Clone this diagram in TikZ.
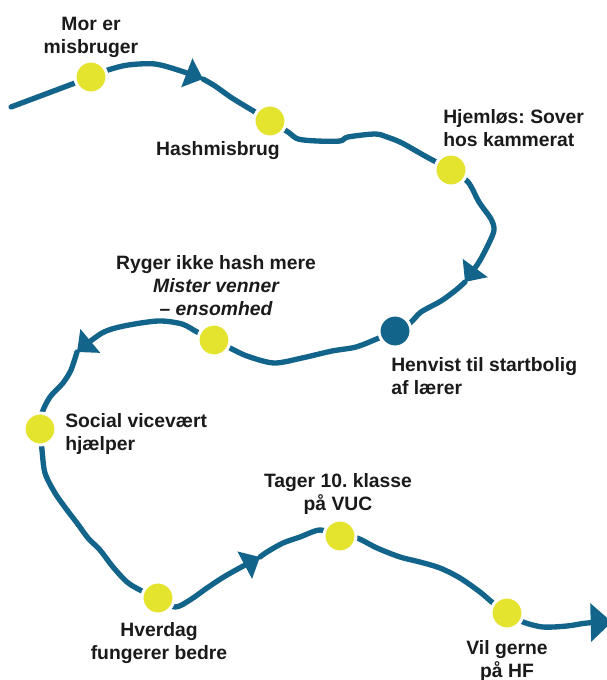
\documentclass[tikz,border=0pt]{standalone}
\usepackage{fontspec}
\setmainfont{Liberation Sans}
\usetikzlibrary{arrows.meta,backgrounds}

\definecolor{sti}{HTML}{13648A}
\definecolor{gul}{HTML}{E4E42F}
\definecolor{tekstfarve}{HTML}{1A1A1A}

\begin{document}
\frenchspacing
\begin{tikzpicture}[x=0.75pt,y=-0.75pt,
  trail/.style={draw=sti,line width=4pt,line cap=round,line join=round},
  pil/.style={-{Triangle[length=13pt,width=22.5pt]}},
  storpil/.style={-{Triangle[length=16pt,width=28pt]}},
  etape/.style={circle,fill=gul,draw=white,line width=2.25pt,minimum size=24pt,inner sep=0pt},
  morkeetape/.style={etape,fill=sti},
  tekst/.style={font=\fontsize{14.5}{17.25}\selectfont\bfseries,text=tekstfarve,inner sep=0pt,align=center}]

\useasboundingbox (0,0) rectangle (606,680);

% Punkter paa vejen
\node[etape] (mor) at (91,77) {};
\node[etape] (hash) at (270,121) {};
\node[etape] (hjem) at (451,170) {};
\node[morkeetape] (henv) at (395,331) {};
\node[etape] (ryger) at (214,340) {};
\node[etape] (social) at (40,429) {};
\node[etape] (hverdag) at (158,598) {};
\node[etape] (tager) at (340,536) {};
\node[etape] (vil) at (507,613) {};

% Start, pilespidser og slut
\coordinate (start) at (11,107);
\coordinate (p1) at (203,79);
\coordinate (p2) at (465,282);
\coordinate (p3) at (77,352);
\coordinate (p4) at (260,557);
\coordinate (slut) at (612,622);

% Vejen (under punkterne)
\begin{scope}[on background layer]
\draw[trail] (start) -- (mor);
\draw[trail,pil] plot[smooth] coordinates {(mor) (108,70) (128,65) (155,64) (181,71) (p1)};
\draw[trail] plot[smooth] coordinates {(p1) (215,86) (232,98) (255,112) (hash)};
\draw[trail] plot[smooth] coordinates {(hash) (288,132) (298,139) (317,141) (340,141) (348,137) (375,134) (387,137) (402,143) (425,156) (hjem)};
\draw[trail,pil] plot[smooth] coordinates {(hjem) (468,182) (479,202) (491,219) (494,230) (489,243) (479,262) (p2)};
\draw[trail] plot[smooth] coordinates {(p2) (456,290) (441,301) (421,312) (410,323) (henv)};
\draw[trail] plot[smooth] coordinates {(henv) (379,338) (356,347) (332,351) (302,358) (274,363) (247,356) (228,347) (ryger)};
\draw[trail,pil] plot[smooth] coordinates {(ryger) (197,332) (182,324) (158,321) (124,326) (102,333) (p3)};
\draw[trail] plot[smooth] coordinates {(p3) (71,370) (63,383) (50,397) (42,413) (social)};
\draw[trail] plot[smooth] coordinates {(social) (42,450) (45,473) (55,493) (67,510) (77,523) (88,538) (100,550) (113,567) (127,582) (140,590) (hverdag)};
\draw[trail,pil] plot[smooth] coordinates {(hverdag) (175,607) (190,600) (207,588) (227,575) (p4)};
\draw[trail] plot[smooth] coordinates {(p4) (267,552) (283,543) (300,537) (320,530) (tager)};
\draw[trail] plot[smooth] coordinates {(tager) (357,538) (377,548) (400,557) (420,562) (440,568) (460,578) (480,592) (493,603) (vil)};
\draw[trail,storpil] plot[smooth] coordinates {(vil) (523,622) (543,627) (567,626) (587,623) (slut)};
\end{scope}

% Tekster
\node[tekst,anchor=north] (mortxt) at (91,17) {Mor er\\misbruger};
\node[tekst,anchor=north] (hashtxt) at (218,141) {Hashmisbrug};
\node[tekst,anchor=north west,align=left] (hjemtxt) at (443,109) {Hjemløs: Sover\\hos kammerat};
\node[tekst,anchor=north] (rygertxt) at (216,255) {Ryger ikke hash mere\\\itshape Mister venner\\\itshape \textendash{} ensomhed};
\node[tekst,anchor=north west,align=left] (henvtxt) at (391,357) {Henvist til startbolig\\af lærer};
\node[tekst,anchor=north west,align=left] (socialtxt) at (65,413) {Social vicevært\\hjælper};
\node[tekst,anchor=north] (tagertxt) at (338,473) {Tager 10. klasse\\på VUC};
\node[tekst,anchor=north] (hverdagtxt) at (159,622) {Hverdag\\fungerer bedre};
\node[tekst,anchor=north] (viltxt) at (507,640) {Vil gerne\\på HF};

\end{tikzpicture}
\end{document}
